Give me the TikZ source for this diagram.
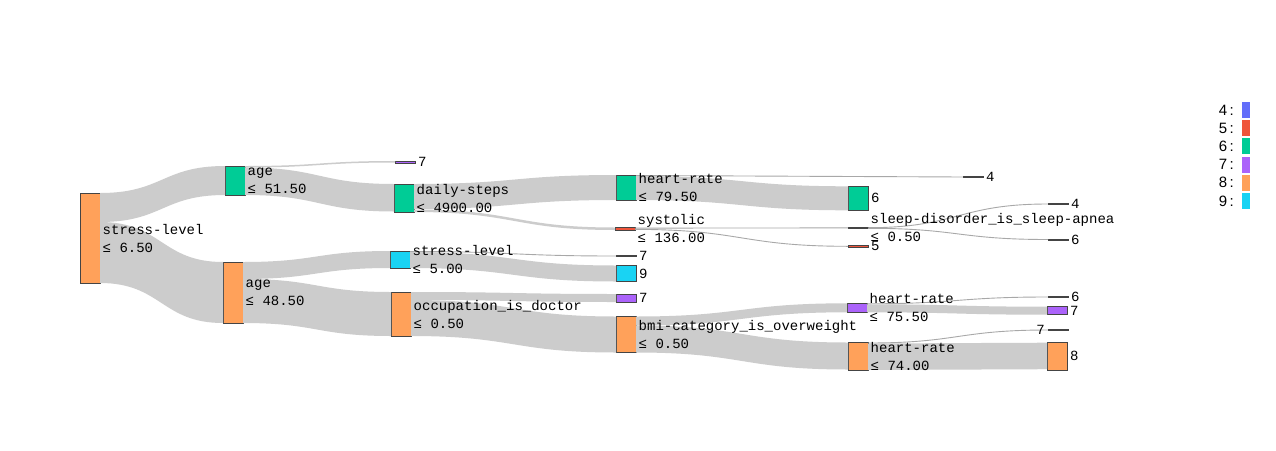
\documentclass[tikz,border=0pt]{standalone}
\usepackage{fontspec}
\setmonofont{Liberation Mono}
\setsansfont{Liberation Sans}
\usetikzlibrary{calc,positioning}

\definecolor{c4}{HTML}{636EFA}
\definecolor{c5}{HTML}{EF553B}
\definecolor{c6}{HTML}{00CC96}
\definecolor{c7}{HTML}{AB63FA}
\definecolor{c8}{HTML}{FFA15A}
\definecolor{c9}{HTML}{19D3F3}
\definecolor{flowgray}{HTML}{CCCCCC}
\definecolor{thingray}{HTML}{A8A8A8}
\definecolor{edge}{HTML}{444444}

% ribbon: source, offset, target, offset, width
\newcommand{\flowband}[5]{%
  \fill[flow] let \p1=([yshift=-#2pt]#1.north east),
                  \p2=([yshift=-#4pt]#3.north west),
                  \p3=($(\p1)!0.5!(\p2)$) in
    (\p1) .. controls (\x3,\y1) and (\x3,\y2) .. (\p2)
    -- (\x2,\y2-#5pt) .. controls (\x3,\y2-#5pt) and (\x3,\y1-#5pt) .. (\x1,\y1-#5pt) -- cycle;}
% hairline flow: source, offset, target, offset
\newcommand{\thinflow}[4]{%
  \draw[thinline] let \p1=([yshift=-#2pt]#1.north east),
                      \p2=([yshift=-#4pt]#3.north west),
                      \p3=($(\p1)!0.5!(\p2)$) in
    (\p1) .. controls (\x3,\y1) and (\x3,\y2) .. (\p2);}

\begin{document}
\begin{tikzpicture}[x=1pt,y=-1pt,
  box/.style={draw=edge, line width=0.5pt, anchor=north west, minimum width=20pt,
    inner sep=0pt, outer sep=0pt},
  thinbox/.style={box, line width=0.15pt, minimum height=1pt},
  lbl/.style={font=\ttfamily\fontsize{14}{18}\selectfont, align=left, inner sep=0pt},
  flow/.style={fill=flowgray},
  thinline/.style={draw=thingray, line width=0.9pt},
  legbox/.style={minimum width=8pt, minimum height=16pt, inner sep=0pt, outer sep=0pt},
  legtxt/.style={font=\sffamily\fontsize{15}{18}\selectfont, inner sep=0pt}]
  \useasboundingbox[fill=white] (0,0) rectangle (1276,450);

  % Tree nodes, level by level
  \node[box, fill=c8, minimum height=90pt] (root) at (80,193) {};

  \node[box, fill=c6, minimum height=29pt] (ageA) at (225,166) {};
  \node[box, fill=c8, minimum height=61pt] (ageB) at (223,262) {};

  \node[thinbox, fill=c7, minimum height=2pt] (leafA) at (395,161) {};
  \node[box, fill=c6, minimum height=28pt] (steps) at (394,184) {};
  \node[box, fill=c9, minimum height=17pt] (stressB) at (390,251) {};
  \node[box, fill=c8, minimum height=44pt] (doctor) at (391,292) {};

  \node[box, fill=c6, minimum height=25pt] (hrA) at (616,175) {};
  \node[thinbox, fill=c5, minimum height=2.5pt] (systolic) at (615,227.5) {};
  \node[thinbox, fill=c7] (leafB) at (616,255.5) {};
  \node[box, fill=c9, minimum height=16pt] (leafC) at (616,265.5) {};
  \node[box, fill=c7, minimum height=8pt] (leafD) at (616,294) {};
  \node[box, fill=c8, minimum height=36pt] (bmi) at (616,316.5) {};

  \node[thinbox, fill=c4] (leafE) at (963,176.5) {};
  \node[box, fill=c6, minimum height=24pt] (leafF) at (848,186.3) {};
  \node[thinbox, fill=c4, minimum height=1.2pt] (apnea) at (848,227.3) {};
  \node[thinbox, fill=c5, minimum height=2pt] (leafG) at (848,245.3) {};
  \node[box, fill=c7, minimum height=9pt] (hrB) at (847,303.3) {};
  \node[box, fill=c8, minimum height=27.5pt] (hrC) at (848,342.5) {};

  \node[thinbox, fill=c4] (leafH) at (1048,203.5) {};
  \node[thinbox, fill=edge] (leafI) at (1048,239) {};
  \node[thinbox, fill=c6] (leafJ) at (1048,296.5) {};
  \node[box, fill=c7, minimum height=8pt] (leafK) at (1047,306.7) {};
  \node[thinbox, fill=c7] (leafL) at (1048,329.5) {};
  \node[box, fill=c8, minimum height=27.3pt] (leafM) at (1047,342.7) {};

  % Flows between nodes
  \flowband{root}{0}{ageA}{0}{29}
  \flowband{root}{29}{ageB}{0}{61}
  \flowband{ageA}{0}{leafA}{0}{1.5}
  \flowband{ageA}{1.5}{steps}{0}{27.5}
  \flowband{ageB}{0}{stressB}{0}{17}
  \flowband{ageB}{17}{doctor}{0}{44}
  \flowband{steps}{0}{hrA}{0}{25}
  \flowband{steps}{25.5}{systolic}{0}{2.5}
  \thinflow{stressB}{0.5}{leafB}{0.5}
  \flowband{stressB}{1}{leafC}{0}{16}
  \flowband{doctor}{0}{leafD}{0}{8}
  \flowband{doctor}{8}{bmi}{0}{36}
  \thinflow{hrA}{0.5}{leafE}{0.5}
  \flowband{hrA}{1}{leafF}{0}{24}
  \thinflow{systolic}{0.6}{apnea}{0.6}
  \thinflow{systolic}{1.9}{leafG}{1}
  \flowband{bmi}{0}{hrB}{0}{9}
  \flowband{bmi}{9}{hrC}{0}{27}
  \thinflow{apnea}{0.4}{leafH}{0.5}
  \thinflow{apnea}{1}{leafI}{0.5}
  \thinflow{hrB}{0.5}{leafJ}{0.5}
  \flowband{hrB}{1}{leafK}{0}{8}
  \thinflow{hrC}{0.5}{leafL}{0.5}
  \flowband{hrC}{1}{leafM}{0}{26.5}

  % Labels
  \node[lbl, right=2.5pt of root] (root-t) {stress-level\\≤ 6.50};
  \node[lbl, right=2.5pt of ageA] (ageA-t) {age\\≤ 51.50};
  \node[lbl, right=2.5pt of ageB] (ageB-t) {age\\≤ 48.50};
  \node[lbl, right=3pt of leafA] (leafA-t) {7};
  \node[lbl, right=2.5pt of steps] (steps-t) {daily-steps\\≤ 4900.00};
  \node[lbl, right=2.5pt of stressB] (stressB-t) {stress-level\\≤ 5.00};
  \node[lbl, right=2.5pt of doctor] (doctor-t) {occupation\_is\_doctor\\≤ 0.50};
  \node[lbl, right=2.5pt of hrA] (hrA-t) {heart-rate\\≤ 79.50};
  \node[lbl, right=2.5pt of systolic] (systolic-t) {systolic\\≤ 136.00};
  \node[lbl, right=3pt of leafB] (leafB-t) {7};
  \node[lbl, right=3pt of leafC] (leafC-t) {9};
  \node[lbl, right=3pt of leafD] (leafD-t) {7};
  \node[lbl, right=2.5pt of bmi] (bmi-t) {bmi-category\_is\_overweight\\≤ 0.50};
  \node[lbl, right=3pt of leafE] (leafE-t) {4};
  \node[lbl, right=3pt of leafF] (leafF-t) {6};
  \node[lbl, right=2.5pt of apnea] (apnea-t) {sleep-disorder\_is\_sleep-apnea\\≤ 0.50};
  \node[lbl, right=3pt of leafG] (leafG-t) {5};
  \node[lbl, right=2.5pt of hrB] (hrB-t) {heart-rate\\≤ 75.50};
  \node[lbl, right=2.5pt of hrC] (hrC-t) {heart-rate\\≤ 74.00};
  \node[lbl, right=3pt of leafH] (leafH-t) {4};
  \node[lbl, right=3pt of leafI] (leafI-t) {6};
  \node[lbl, right=3pt of leafJ] (leafJ-t) {6};
  \node[lbl, right=3pt of leafK] (leafK-t) {7};
  \node[lbl, left=3pt of leafL] (leafL-t) {7};
  \node[lbl, right=3pt of leafM] (leafM-t) {8};

  % Legend
  \foreach \k/\c [count=\i] in {4/c4,5/c5,6/c6,7/c7,8/c8,9/c9} {
    \node[legbox, fill=\c] (key\k) at (1246,{110+18.2*(\i-1)}) {};
    \node[legtxt, left=8pt of key\k] (keyt\k) {\k\kern2.5pt:};
  }
\end{tikzpicture}
\end{document}
